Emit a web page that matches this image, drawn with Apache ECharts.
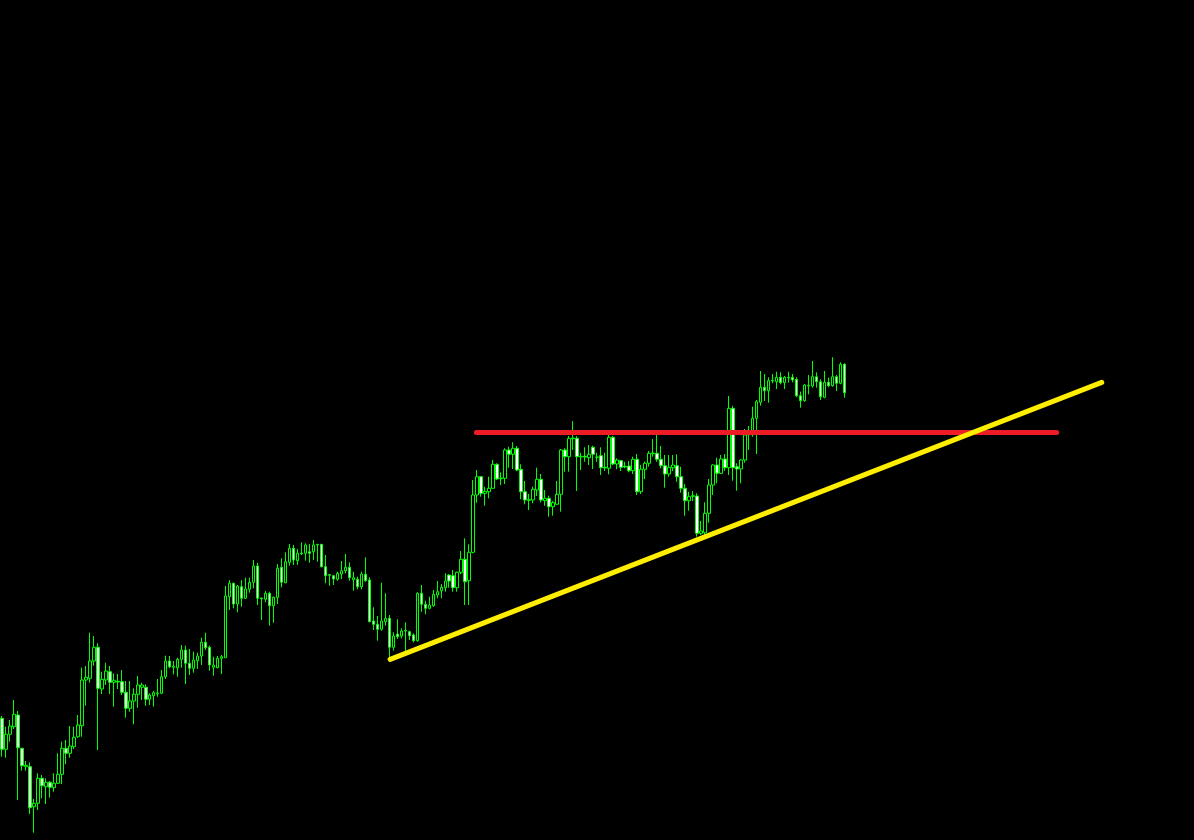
<!DOCTYPE html>
<html>
<head>
<meta charset="utf-8">
<title>Candles</title>
<script src="https://cdn.jsdelivr.net/npm/echarts@6/dist/echarts.min.js"></script>
<style>
  html, body { margin: 0; padding: 0; background: #000; }
  #chart { width: 1194px; height: 840px; }
</style>
</head>
<body>
<div id="chart"></div>
<script>
// [open, close, low, high] - price units
const ohlc = [
  [121.7,90.7,83.3,124],[90.7,105.7,82.3,113.3],[105.7,114,98.3,120],[113.3,125.7,111,140],
  [125,92.3,40,129],[91.7,74.3,69.3,91.7],[73.3,74.7,69.3,79],[73.3,32.3,26,77.7],
  [33.3,36.7,7.3,41],[36.7,61.7,30,66.7],[61.7,54.3,41.7,65],[53.3,57.7,36,61.7],
  [57.7,52.7,42.3,59],[52.3,56.7,48.3,66.7],[56.7,65.7,56,86.7],[65.7,91.7,56,98.3],
  [91.7,86.7,75.7,100],[86.7,94,82.3,114],[93.3,102.7,91,113.3],[103.3,115,102.3,125],
  [114.3,160,103.3,172.3],[160,162.7,134.3,174],[161.7,179,157.3,207.3],[179,192.7,174.3,204],
  [192.7,151.7,90,196.7],[151,160.7,146,168.3],[160,169,155,177.3],[168.3,157.7,146,174],
  [157.7,159.7,133.3,166.7],[158.7,158,151,166],[158.3,147.7,145,170],[147.7,131.7,122.3,159],
  [131.7,139,128.3,159],[139,145.7,115.7,151.7],[145.7,155,132.3,164],[152.7,155,140,157.3],
  [152.7,140.7,134.3,155.7],[140.7,145,135,146.7],[144.3,147.3,133.3,149.3],[146.3,147,143.3,161],
  [146.7,163.3,146,170],[163.3,179,161,184.3],[179,173.3,171.7,184],[172.7,173.7,165.7,179],
  [172.3,180.7,163.3,182.3],[180.7,190,172.3,195],[190,176.7,156,194.3],[176.7,171.7,165,191],
  [171.7,180,167.3,188.3],[179.3,184,171,187.3],[184,197.7,175,202.3],[197.7,192.3,190,207.3],
  [192.7,175,169.3,194.3],[172.7,174.7,164.3,183.3],[172.3,181.7,171.7,184],[181.7,183.3,166,185],
  [182.3,244,182.3,254],[243.3,256.7,230,260],[256.7,236,231.7,257.3],[236,254,227.7,255],
  [253.3,241.7,233.3,260],[241.7,251,241,262.3],[250.7,257.7,247.3,262.3],[257.7,274,251.7,280],
  [274,241.7,235,277.3],[242,241.3,220,242.3],[240.7,246.7,237.7,249],[246.7,234.3,214.3,248.3],
  [234.3,242.7,217.3,243.3],[242.7,271.7,236,276],[272.7,257.7,252.7,281.7],[257.3,278.3,256.7,287.7],
  [277.7,291.7,274.3,296],[291.7,280,275,295],[279.3,286.7,275,291],[286.3,287,285,297.7],
  [286.7,295,279.3,296.7],[288.3,286.7,277.3,296],[288.3,295,280,300],[295,295.7,278.3,296],
  [295.7,273.3,272.7,295.7],[273.3,264.3,256.7,285],[265.3,264.7,254.3,266],[264.3,261,255,265],
  [260.7,266.7,259.3,268.3],[266,269.3,261,279],[269.3,272.7,266.7,286],[272.7,262.3,259.3,277.7],
  [260.3,262.3,249.3,268.3],[260.7,253.3,250.7,263.3],[253.3,266,250.7,268.3],[265.7,259.3,258.3,282.7],
  [260,218.3,217.7,262.7],[219,215.7,210,232.7],[215.7,210.7,199.3,224],[210.7,219,209.3,257.3],
  [218.3,221.7,214.3,246.7],[221.7,192.7,180.7,225],[192.7,204,189.3,207.7],[206,203.3,201,220.7],
  [204,209,201.7,211.7],[209,209.7,186.7,217.7],[208.3,204.3,200,209.3],[205,199.3,197.7,206.7],
  [199.3,246.7,198.3,247.7],[246.7,235.7,228.3,255],[235.7,231.7,225.7,239.3],[231.7,235,230.7,243.3],
  [234.3,245.7,233.3,250],[245,248.3,241.7,259],[249.3,252.7,241.7,256],[252.3,259,248.3,266.7],
  [265,259,252.3,265.7],[264.3,252.3,248.3,270],[252.3,267.7,248.3,268.3],[267.7,280.7,265.7,289],
  [280.7,258.3,235,301.7],[259.3,287.7,235,295.7],[287.7,345,286.7,360],[345,363.3,337.3,370],
  [363.3,346.7,343.3,364],[346.7,348.7,334.3,353.3],[348.3,351.7,341.7,363.3],[351.7,375.7,351,380],
  [375.7,361,360,376.7],[361.3,362,355,367.7],[361.7,390,356,391.7],[390,385.7,372.3,393.3],
  [385.7,391.7,371,397.7],[391.7,370,369,394],[370.7,348.3,340.7,375.7],[348.3,340,335.7,359],
  [340.3,339.7,330,346],[340,350.7,336.7,353.3],[350,360.7,344,372.3],[360.7,340,337.7,366],
  [339.3,341.7,334.3,350],[341.7,333.3,323.3,344.3],[333.3,337.3,324.3,339],[335.7,345.7,335,359],
  [345.7,390,328.3,391],[390,383.3,368.3,391.7],[383.3,401.7,368.3,404],[401.3,402,390,419],
  [401.7,383.3,349,404],[383,383.7,370,387.3],[383.7,383,378.3,392.7],[382.3,385.7,375,395],
  [392.7,385.7,371,394.3],[382.7,383,378.3,387.3],[384.3,372.3,365,392.7],[372.7,372,369,387.3],
  [371.7,402.7,365.7,405],[402.7,376,375,404],[376,380,370.7,381.7],[379.3,372.7,369,380],
  [373.7,373,371.7,378.3],[374,369.3,367.7,379],[369.3,380.7,366,383.3],[380.7,348.3,345,386],
  [348.3,370.7,346,375],[370.7,376.7,361,378.3],[376.7,386.7,373.3,389],[386.3,387,383.3,401],
  [386.7,380.7,378.3,405],[380.7,374.3,371.7,394],[374.3,366,352.3,385],[366,372.7,363.3,385],
  [372.3,375,369,385],[374.3,363.3,358.3,385.7],[363.3,351.7,347.3,373.3],[351.7,339.3,324.3,356],
  [339.3,343.3,329.3,348.3],[343.7,344.3,339,349],[344,306.7,303.3,346.7],[306.7,309,305,319],
  [307.3,326.7,305,337.7],[326.7,355,317.3,361],[355,375,345,375.7],[375,366.7,356.7,382.3],
  [366.7,381,366,385],[381,372.3,369.3,386],[372.3,431.7,365,444],[431.7,372.3,359.3,434],
  [373.3,371,349.3,376.7],[371,380,356.7,380.7],[380,405,377.3,411],[405,406.7,390,414],
  [405,421.7,403.3,433.3],[421.7,438.3,386,440],[437.7,452.7,434.3,469],[452.7,449.3,439,466],
  [449.3,459.3,437.3,462.7],[459,459.7,456.7,466],[458.3,462.7,451,468.3],[462.7,457.3,455.7,467.7],
  [457.3,462.7,451,464],[462,462.7,457.3,468.3],[462.7,460,457.7,466],[460.7,444.3,442.7,462.7],
  [444.3,439.3,432.3,448.3],[439.3,455,438.3,456],[454,454.7,445.7,465],[454,463.3,452.3,479],
  [463.3,458.3,452.3,467.7],[458.3,443.3,440,460.7],[442.7,457.7,441.7,469],[457.7,454.3,452.7,462.3],
  [454.3,463.3,453.3,482.7],[463.3,456.7,449,465],[456.7,475.7,455.7,477.7],[475.7,447.3,442.3,476.7]
]

// hand drawn lines, [bar index, price]
const supportLine = [[97.2, 180.7], [275.4, 457.6]]
const resistanceLine = [[118.8, 407.5], [264.1, 407.5]]

// empty space to the right of the last bar
const totalSlots = 299
const categories = Array.from({ length: totalSlots }, (_, i) => String(i))

const chart = echarts.init(document.getElementById('chart'))

chart.setOption({
  backgroundColor: '#000000',
  animation: false,
  grid: { left: 0, top: 0, width: 1196, height: 840 },
  xAxis: [
    {
      type: 'category',
      data: categories,
      show: false,
      boundaryGap: true,
    },
    {
      type: 'value',
      min: -0.5,
      max: totalSlots - 0.5,
      show: false,
    },
  ],
  yAxis: {
    type: 'value',
    min: 0,
    max: 840,
    show: false,
  },
  series: [
    {
      type: 'candlestick',
      data: ohlc,
      barWidth: 3,
      itemStyle: {
        color: '#000000',
        color0: '#ffffff',
        borderColor: '#00ff00',
        borderColor0: '#00ff00',
        borderWidth: 1,
      },
    },
    {
      type: 'line',
      xAxisIndex: 1,
      data: resistanceLine,
      symbol: 'none',
      lineStyle: { color: '#ee1c25', width: 5, cap: 'round' },
      z: 5,
    },
    {
      type: 'line',
      xAxisIndex: 1,
      data: supportLine,
      symbol: 'none',
      lineStyle: { color: '#ffee00', width: 5, cap: 'round' },
      z: 6,
    },
  ],
})
</script>
</body>
</html>
